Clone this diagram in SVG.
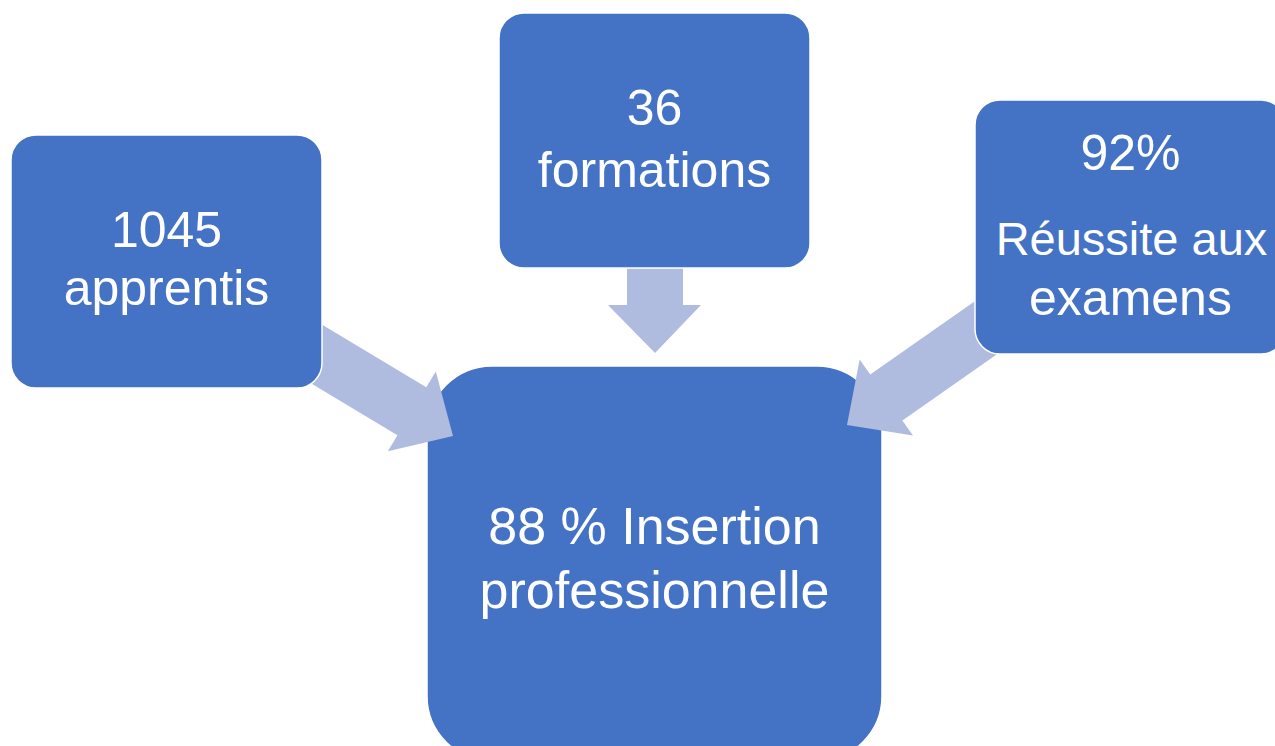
<svg xmlns="http://www.w3.org/2000/svg" width="1275" height="746" viewBox="0 0 1275 746">
<style>
.box{fill:#4472C4;stroke:#FFFFFF;stroke-width:1.5}
.arr{fill:#AFBCDF}
.t{font-family:"Liberation Sans",Arial,sans-serif;fill:#FFFFFF;text-anchor:middle;font-size:50px}
.tc{font-size:52px}
</style>
<defs>
<polygon id="arrowShape" points="0,0 -48,-46.5 -48,-28 -200,-28 -200,28 -48,28 -48,46.5"/>
</defs>
<rect width="1275" height="746" fill="#FFFFFF"/>
<g id="node-insertion">
<rect class="box" x="427" y="366" width="455" height="395" rx="65" ry="65"/>
<text class="t tc" x="654.5" y="544">88 % Insertion</text>
<text class="t tc" x="654.5" y="608">professionnelle</text>
</g>
<g id="connectors">
<use class="arr" href="#arrowShape" transform="translate(453,436) rotate(31)"/>
<polygon class="arr" points="627,250 683,250 683,305 701,305 655,353 608,305 627,305"/>
<use class="arr" href="#arrowShape" transform="translate(847,425) rotate(145)"/>
</g>
<g id="node-apprentis">
<rect class="box" x="11" y="135" width="311" height="253" rx="25" ry="25"/>
<text class="t" x="166.5" y="247">1045</text>
<text class="t" x="166.5" y="305">apprentis</text>
</g>
<g id="node-formations">
<rect class="box" x="499" y="13" width="311" height="255" rx="25" ry="25"/>
<text class="t" x="654.5" y="125">36</text>
<text class="t" x="654.5" y="187">formations</text>
</g>
<g id="node-reussite">
<rect class="box" x="975" y="100" width="311" height="254" rx="25" ry="25"/>
<text class="t" x="1130.5" y="170">92%</text>
<text class="t" x="1131.5" y="255" style="font-size:47px">Réussite aux</text>
<text class="t" x="1130.5" y="315">examens</text>
</g>
</svg>
